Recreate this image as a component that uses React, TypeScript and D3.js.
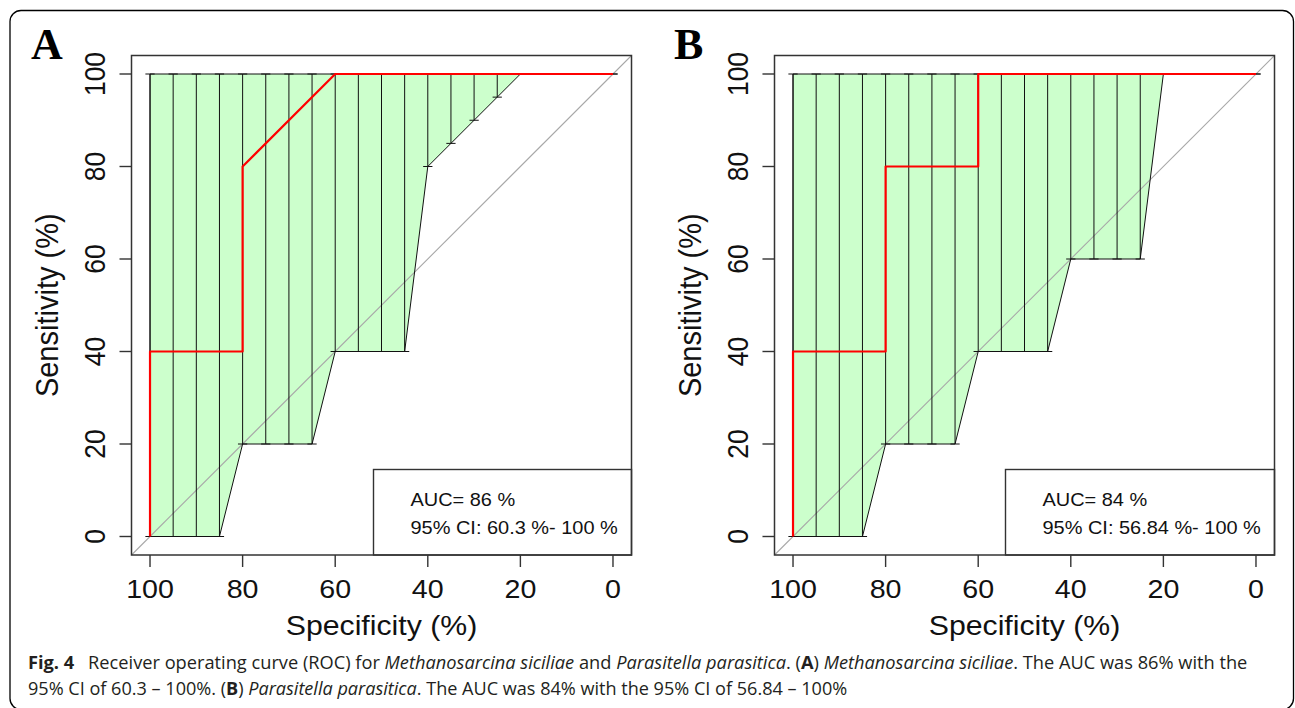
import React, { useLayoutEffect, useRef } from "react";
import * as d3 from "d3";

// ---------- data ----------
const specTicks = [100, 80, 60, 40, 20, 0];
const sensTicks = [0, 20, 40, 60, 80, 100];

// specificities at which the CI of sensitivity is evaluated
const ciSpecs = [100, 95, 90, 85, 80, 75, 70, 65, 60, 55, 50, 45, 40, 35, 30, 25, 20, 15, 10, 5, 0];
const ciLowerA = [0, 0, 0, 0, 20, 20, 20, 20, 40, 40, 40, 40, 80, 85, 90, 95, 100, 100, 100, 100, 100];
const ciUpperA = [100, 100, 100, 100, 100, 100, 100, 100, 100, 100, 100, 100, 100, 100, 100, 100, 100, 100, 100, 100, 100];
const ciLowerB = [0, 0, 0, 0, 20, 20, 20, 20, 40, 40, 40, 40, 60, 60, 60, 60, 100, 100, 100, 100, 100];
const ciUpperB = [100, 100, 100, 100, 100, 100, 100, 100, 100, 100, 100, 100, 100, 100, 100, 100, 100, 100, 100, 100, 100];

// ROC curves (specificity, sensitivity)
const rocSpecA = [100, 100, 80, 80, 60, 0];
const rocSensA = [0, 40, 40, 80, 100, 100];
const rocSpecB = [100, 100, 80, 80, 60, 60, 0];
const rocSensB = [0, 40, 40, 80, 80, 100, 100];

const legendA = ["AUC= 86 %", "95% CI: 60.3 %- 100 %"];
const legendB = ["AUC= 84 %", "95% CI: 56.84 %- 100 %"];

const panelLabels = ["A", "B"];

// ---------- layout ----------
const W = 1295;
const H = 708;
const plotTop = 55.5;
const plotBottom = 555;
const plotWidth = 500;
const SANS = "'Liberation Sans', Arial, Helvetica, sans-serif";

type PanelProps = {
  left: number;
  label: string;
  lower: number[];
  upper: number[];
  rocSpec: number[];
  rocSens: number[];
  legend: string[];
  legendLeft: number;
};

function Panel({ left, label, lower, upper, rocSpec, rocSens, legend, legendLeft }: PanelProps) {
  const x = d3.scaleLinear().domain([104, -4]).range([left, left + plotWidth]);
  const y = d3.scaleLinear().domain([-4, 104]).range([plotBottom, plotTop]);

  const upperPts: [number, number][] = ciSpecs.map((s, i) => [x(s), y(upper[i])]);
  const lowerPts: [number, number][] = ciSpecs.map((s, i) => [x(s), y(lower[i])] as [number, number]).reverse();
  const poly = d3.line()(upperPts.concat(lowerPts)) + "Z";

  const rocLine = d3.line<number>()
    .x((i) => x(rocSpec[i]))
    .y((i) => y(rocSens[i]))(rocSpec.map((_, i) => i)) as string;

  const capHalf = x(0) - x(1);
  const cx = (x.range()[0] + x.range()[1]) / 2;
  const cy = (plotTop + plotBottom) / 2;

  return (
    <g>
      <text x={left - 100.5} y={59} fontFamily="'Liberation Serif', 'Times New Roman', serif" fontWeight="bold" fontSize={44} fill="#000">
        {label}
      </text>

      <path d={poly} fill="#CCFFCC" stroke="none" />
      <line x1={x(104)} y1={y(-4)} x2={x(-4)} y2={y(104)} stroke="#a8a8a8" strokeWidth={1.1} />
      <path d={poly} fill="none" stroke="#111" strokeWidth={1} />

      {ciSpecs.map((s, i) => (
        <g key={"bar" + i}>
          <line x1={x(s)} x2={x(s)} y1={y(lower[i])} y2={y(upper[i])} stroke="#111" strokeWidth={1} />
          <line x1={x(s) - capHalf} x2={x(s) + capHalf} y1={y(lower[i])} y2={y(lower[i])} stroke="#111" strokeWidth={1} />
          <line x1={x(s) - capHalf} x2={x(s) + capHalf} y1={y(upper[i])} y2={y(upper[i])} stroke="#111" strokeWidth={1} />
        </g>
      ))}

      <path d={rocLine} fill="none" stroke="#ff0000" strokeWidth={2.2} strokeLinejoin="round" />

      <rect x={legendLeft} y={469.5} width={x.range()[1] - legendLeft} height={plotBottom - 469.5} fill="#fff" stroke="#333" strokeWidth={1.4} />
      {legend.map((t, i) => (
        <text key={"lg" + i} transform={`translate(${legendLeft + 37},${505.5 + i * 28.5}) scale(1.05,1)`} fontFamily={SANS} fontSize={19} fill="#111">
          {t}
        </text>
      ))}

      <rect x={x.range()[0]} y={plotTop} width={plotWidth} height={plotBottom - plotTop} fill="none" stroke="#333" strokeWidth={1.5} />

      {specTicks.map((t) => (
        <g key={"xt" + t}>
          <line x1={x(t)} x2={x(t)} y1={plotBottom} y2={plotBottom + 12} stroke="#333" strokeWidth={1.4} />
          <text transform={`translate(${x(t)},598) scale(1.08,1)`} textAnchor="middle" fontFamily={SANS} fontSize={26.5} fill="#111">
            {t}
          </text>
        </g>
      ))}
      {sensTicks.map((t) => (
        <g key={"yt" + t}>
          <line x1={x.range()[0] - 12} x2={x.range()[0]} y1={y(t)} y2={y(t)} stroke="#333" strokeWidth={1.4} />
          <text transform={`translate(${left - 26.5},${y(t)}) scale(1.09,1) rotate(-90)`} textAnchor="middle" fontFamily={SANS} fontSize={26.5} fill="#111">
            {t}
          </text>
        </g>
      ))}

      <text transform={`translate(${cx},635) scale(1.08,1)`} textAnchor="middle" fontFamily={SANS} fontSize={28} fill="#111">
        Specificity (%)
      </text>
      <text transform={`translate(${left - 74},${cy}) scale(1.09,1) rotate(-90)`} textAnchor="middle" fontFamily={SANS} fontSize={29} fill="#111">
        Sensitivity (%)
      </text>
    </g>
  );
}

function FitText({ x, y, width, children }: { x: number; y: number; width: number; children: React.ReactNode }) {
  const ref = useRef<SVGTextElement>(null);
  useLayoutEffect(() => {
    const el = ref.current;
    if (!el) return;
    const natural = el.getComputedTextLength();
    if (natural > 0) {
      el.setAttribute("transform", `translate(${x},${y}) scale(${width / natural},1)`);
    }
  }, [x, y, width]);
  return (
    <text ref={ref} transform={`translate(${x},${y})`} fontFamily="'Open Sans', 'Noto Sans', sans-serif" fontSize={18.5} fill="#231f20">
      {children}
    </text>
  );
}

export default function App() {
  return (
    <div style={{ position: "absolute", left: 0, top: 0 }}>
      <svg width={W} height={H} style={{ display: "block", background: "#fff" }}>
        <rect x={0} y={0} width={W} height={H} fill="#fff" />
        <rect x={10} y={10.5} width={1283.5} height={699} rx={11} ry={11} fill="none" stroke="#000" strokeWidth={1.3} />

        <Panel left={131.5} label={panelLabels[0]} lower={ciLowerA} upper={ciUpperA} rocSpec={rocSpecA} rocSens={rocSensA} legend={legendA} legendLeft={373.5} />
        <Panel left={774.5} label={panelLabels[1]} lower={ciLowerB} upper={ciUpperB} rocSpec={rocSpecB} rocSens={rocSensB} legend={legendB} legendLeft={1005.5} />

        <FitText x={28} y={669} width={1220}>
          <tspan fontWeight="bold">Fig. 4</tspan>
          {"\u2002 Receiver operating curve (ROC) for "}
          <tspan fontStyle="italic">Methanosarcina siciliae</tspan>
          {" and "}
          <tspan fontStyle="italic">Parasitella parasitica</tspan>
          {". ("}
          <tspan fontWeight="bold">A</tspan>
          {") "}
          <tspan fontStyle="italic">Methanosarcina siciliae</tspan>
          {". The AUC was 86% with the"}
        </FitText>
        <FitText x={28} y={695} width={820}>
          {"95% CI of 60.3 \u2013 100%. ("}
          <tspan fontWeight="bold">B</tspan>
          {") "}
          <tspan fontStyle="italic">Parasitella parasitica</tspan>
          {". The AUC was 84% with the 95% CI of 56.84 \u2013 100%"}
        </FitText>
      </svg>
    </div>
  );
}
